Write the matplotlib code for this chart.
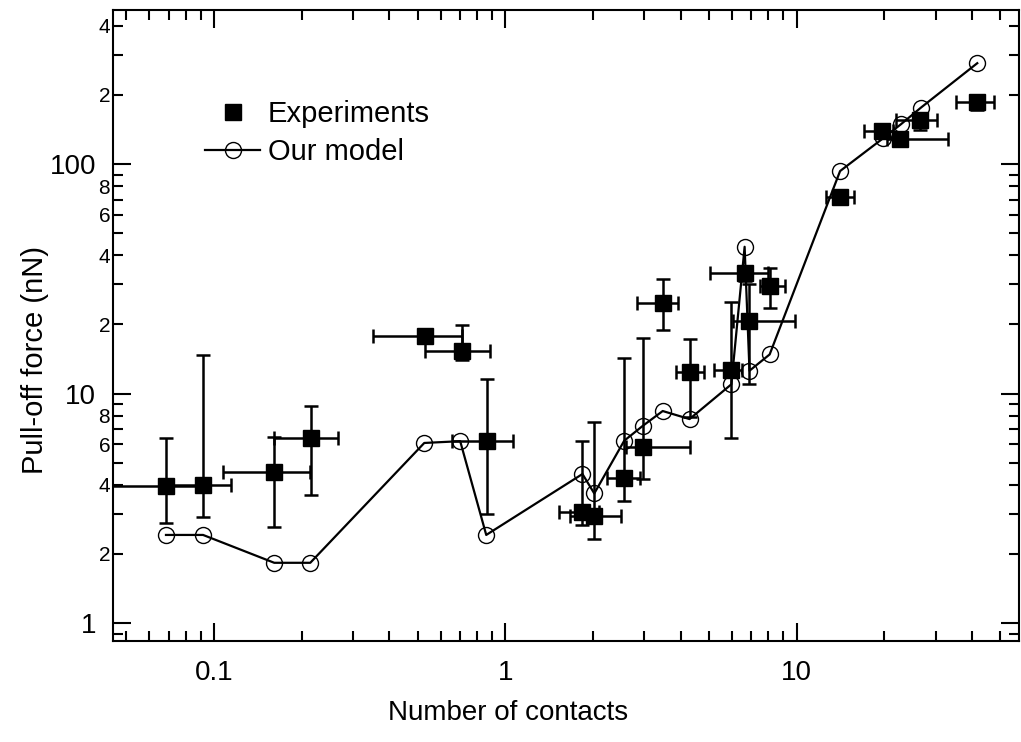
import matplotlib
matplotlib.use("Agg")
import matplotlib.pyplot as plt
import numpy as np
from matplotlib.lines import Line2D
from matplotlib.ticker import LogLocator, FuncFormatter, NullFormatter

plt.rcParams['font.family'] = ['Liberation Sans', 'DejaVu Sans']

# Model: number of contacts vs pull-off force (nN), in drawing order
model_n = [0.0684, 0.0917, 0.161, 0.214, 0.527, 0.70, 0.86, 1.84, 2.02, 2.56, 2.96,
           3.47, 4.29, 5.97, 6.63, 6.89, 8.08, 14.1, 19.8, 22.8, 26.7, 41.7]
model_f = [2.42, 2.42, 1.83, 1.83, 6.09, 6.2, 2.42, 4.46, 3.67, 6.23, 7.22,
           8.39, 7.74, 10.97, 43.6, 12.57, 14.8, 93.2, 129.4, 149, 176, 275]

# Experiments: values with lower / upper bounds of the error bars
exp_n = [0.0684, 0.0917, 0.161, 0.215, 0.530, 0.708, 0.863, 1.83, 2.02, 2.56, 2.96,
         3.47, 4.29, 5.97, 6.63, 6.89, 8.1, 14.1, 19.6, 22.6, 26.6, 41.7]
exp_n_lo = [0.04, 0.068, 0.107, 0.161, 0.352, 0.530, 0.654, 1.53, 1.67, 2.23, 2.6,
            2.84, 3.86, 5.22, 5.03, 6.07, 7.5, 12.6, 17.1, 20.5, 21.9, 35.3]
exp_n_hi = [0.09, 0.114, 0.213, 0.267, 0.708, 0.886, 1.065, 2.1, 2.50, 2.90, 4.31,
            3.93, 4.82, 6.5, 8.0, 9.9, 9.15, 15.8, 21.5, 33.1, 30.4, 47.5]
exp_f = [3.95, 3.98, 4.57, 6.38, 17.9, 15.3, 6.23, 3.05, 2.94, 4.30, 5.87,
         24.9, 12.45, 12.66, 33.6, 20.7, 29.4, 72.0, 139.7, 128.2, 155.5, 186.8]
exp_f_lo = [2.72, 2.91, 2.63, 3.61, 17.0, 14.0, 3.0, 2.67, 2.33, 3.41, 4.23,
            18.9, 7.93, 6.42, 31.0, 11.0, 23.5, 70.0, 130, 120, 141, 171.9]
exp_f_hi = [6.38, 14.7, 6.48, 8.82, 18.8, 19.9, 11.6, 6.23, 7.54, 14.3, 17.4,
            31.4, 17.2, 25.1, 36.0, 30.0, 35.4, 74.0, 150, 136, 165, 200]

fig = plt.figure(figsize=(10.21, 7.42), dpi=100)
ax = fig.add_axes([113 / 1021, 1 - 641 / 742, 906 / 1021, 631 / 742])

xn = np.array(exp_n)
yf = np.array(exp_f)
xerr = [xn - np.array(exp_n_lo), np.array(exp_n_hi) - xn]
yerr = [yf - np.array(exp_f_lo), np.array(exp_f_hi) - yf]

ax.errorbar(exp_n, exp_f, xerr=xerr, yerr=yerr, fmt='none', ecolor='black',
            elinewidth=1.8, capsize=5, capthick=1.8, zorder=2)
ax.plot(exp_n, exp_f, 's', color='black', markersize=11.5, zorder=3)
ax.plot(model_n, model_f, '-o', color='black', linewidth=1.6, markersize=11.5,
        markerfacecolor='none', markeredgewidth=1.0, zorder=4)

ax.set_xscale('log')
ax.set_yscale('log')
ax.set_xlim(0.045, 58)
ax.set_ylim(0.835, 469)

for side in ax.spines.values():
    side.set_linewidth(1.5)

ax.xaxis.set_major_locator(LogLocator(base=10, numticks=10))
ax.xaxis.set_minor_locator(LogLocator(base=10, subs=np.arange(2, 10), numticks=10))
ax.xaxis.set_major_formatter(FuncFormatter(lambda v, p: f"{v:g}"))
ax.xaxis.set_minor_formatter(NullFormatter())

ax.yaxis.set_major_locator(LogLocator(base=10, numticks=10))
ax.yaxis.set_minor_locator(LogLocator(base=10, subs=np.arange(2, 10), numticks=10))
ax.yaxis.set_major_formatter(FuncFormatter(lambda v, p: f"{v:g}"))


def minor_label(v, pos):
    lead = int(round(v / 10 ** np.floor(np.log10(v) + 1e-9)))
    return str(lead) if lead in (2, 4, 6, 8) else ""


ax.yaxis.set_minor_formatter(FuncFormatter(minor_label))

ax.tick_params(which='both', direction='in', top=True, right=True, width=1.5, color='black')
ax.tick_params(which='major', length=13, labelsize=20)
ax.tick_params(axis='x', which='major', pad=14)
ax.tick_params(axis='y', which='major', pad=12)
ax.tick_params(which='minor', length=7.5)
ax.tick_params(axis='y', which='minor', labelsize=15, pad=2)

ax.set_xlabel('Number of contacts', fontsize=20)
ax.set_ylabel('Pull-off force (nN)', fontsize=21)
ax.xaxis.set_label_coords(0.436, -0.094)
ax.yaxis.set_label_coords(-0.071, 0.445)

handles = [
    Line2D([], [], marker='s', linestyle='none', color='black', markersize=11.5),
    Line2D([], [], marker='o', linestyle='-', color='black', linewidth=1.6,
           markersize=11.5, markerfacecolor='none', markeredgewidth=1.0),
]
ax.legend(handles, ['Experiments', 'Our model'], loc='upper left',
          bbox_to_anchor=(205 / 1021, 1 - 100 / 742), bbox_transform=fig.transFigure,
          frameon=False, fontsize=21, handlelength=1.9, handletextpad=0.25,
          labelspacing=0.36, borderpad=0, borderaxespad=0)

fig.savefig('out.png', dpi=100)
